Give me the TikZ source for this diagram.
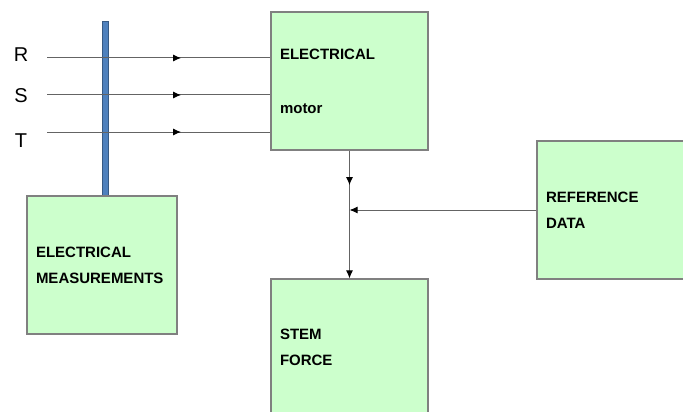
\documentclass[tikz,border=0pt]{standalone}
\usepackage{fontspec}
\setmainfont{Liberation Sans}
\usetikzlibrary{arrows.meta, decorations.markings}
\definecolor{boxgreen}{RGB}{204,255,204}
\definecolor{boxline}{RGB}{128,128,128}
\definecolor{barblue}{RGB}{79,129,189}
\definecolor{wiregray}{RGB}{100,100,100}
\tikzset{
    block/.style={
        rectangle, draw=boxline, fill=boxgreen, line width=1.2pt,
        inner xsep=9pt, align=left,
        font=\fontsize{15}{26}\selectfont\bfseries
    },
    wire/.style={
        draw=wiregray, line width=1pt
    },
    midarr/.style={
        postaction={decorate},
        decoration={markings, mark=at position #1 with {\arrow[black]{Latex[length=8pt,width=7pt]}}}
    },
    endarr/.style={
        -{Latex[length=8pt,width=7pt,black]}
    },
    phase/.style={
        font=\fontsize{20}{22}\selectfont
    }
}
\begin{document}
\begin{tikzpicture}[x=1pt, y=-1pt]
        %\draw[help lines, step=50] (0,0) grid (683,412);
        \clip (0,0) rectangle (683,412);

        \node[fill=barblue, draw=barblue!70!black, minimum width=6pt, minimum height=175pt, inner sep=0pt] (bar) at (105,108.5) {};

        \node[block, minimum width=157pt, minimum height=138pt, text width=139pt] (motor)   at (349.5,81)  {ELECTRICAL\\[28pt]motor};
        \node[block, minimum width=150pt, minimum height=138pt, text width=132pt] (refdata) at (612,210)   {REFERENCE\\DATA};
        \node[block, minimum width=157pt, minimum height=136pt, text width=139pt] (stem)    at (349.5,347) {STEM\\FORCE};
        \node[block, minimum width=150pt, minimum height=138pt, text width=132pt] (meas)    at (102,265)   {ELECTRICAL\\MEASUREMENTS};

        \node[phase] (labR) at (21,55)  {R};
        \node[phase] (labS) at (21,96)  {S};
        \node[phase] (labT) at (21,141) {T};

        \coordinate (inR) at (47,58);
        \coordinate (inS) at (47,95);
        \coordinate (inT) at (47,132);
        \coordinate (join) at (motor.south |- refdata.west);

        \path (inR) edge[wire, midarr=0.6] (inR -| motor.west)
              (inS) edge[wire, midarr=0.6] (inS -| motor.west)
              (inT) edge[wire, midarr=0.6] (inT -| motor.west)
              (motor.south) edge[wire, midarr=0.27, endarr] (stem.north)
              (refdata.west) edge[wire, endarr] (join);
\end{tikzpicture}
\end{document}
